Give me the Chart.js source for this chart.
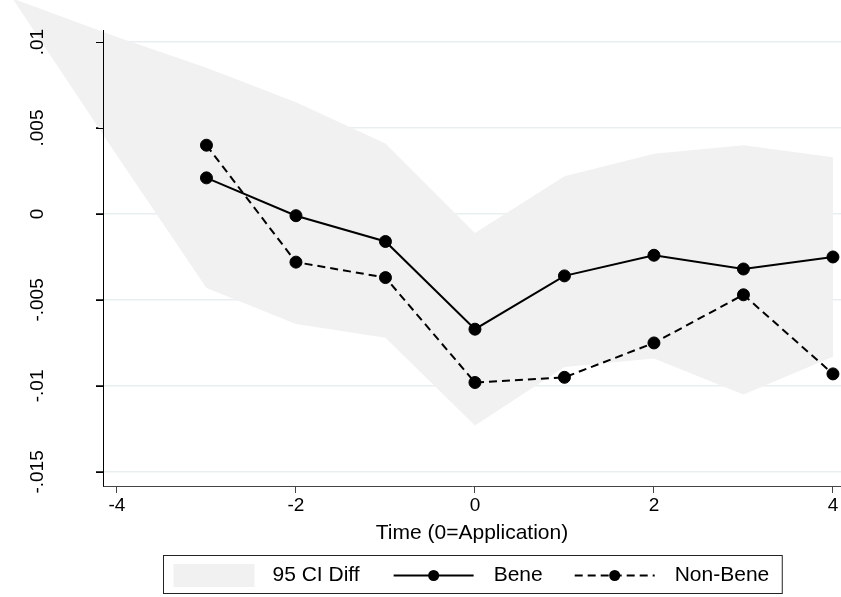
<!DOCTYPE html>
<html>
<head>
<meta charset="utf-8">
<script src="https://cdn.jsdelivr.net/npm/chart.js@4/dist/chart.umd.min.js"></script>
<style>
html, body { margin: 0; padding: 0; background: #fff; }
#wrap { width: 841px; height: 597px; }
</style>
</head>
<body>
<div id="wrap"><canvas id="lineChart" width="841" height="597"></canvas></div>
<script>
//data
var times = [-3, -2, -1, 0, 1, 2, 3, 4];
var bene = [0.0021, -0.0001, -0.0016, -0.0067, -0.0036, -0.0024, -0.0032, -0.0025];
var nonBene = [0.0040, -0.0028, -0.0037, -0.0098, -0.0095, -0.0075, -0.0047, -0.0093];

//95 CI band (runs off the plot on the left)
var bandX = [-5.15, -4, -3, -2, -1, 0, 1, 2, 3, 4];
var ciUpper = [0.0125, 0.0103, 0.0085, 0.0065, 0.0041, -0.0011, 0.0022, 0.0035, 0.0040, 0.0033];
var ciLower = [0.0124, 0.0034, -0.0043, -0.0064, -0.0072, -0.0123, -0.0089, -0.0084, -0.0105, -0.0083];

var xTicks = [-4, -2, 0, 2, 4];
var yTicks = [-0.015, -0.01, -0.005, 0, 0.005, 0.01];
var legendLabels = ["95 CI Diff", "Bene", "Non-Bene"];

var FONT = '"Liberation Sans", Arial, Helvetica, sans-serif';
var bandColor = '#f1f1f1';

function pts(ys) {
  return times.map(function (t, i) { return { x: t, y: ys[i] }; });
}

function stataNum(v) {
  var s = String(+v.toFixed(3));
  return s.replace('0.', '.');
}

//band drawn under the lines, not clipped to the plot
var bandPlugin = {
  id: 'ciBand',
  beforeDatasetsDraw: function (chart) {
    var ctx = chart.ctx, x = chart.scales.x, y = chart.scales.y;
    ctx.save();
    ctx.fillStyle = bandColor;
    ctx.beginPath();
    for (var i = 0; i < bandX.length; i++) {
      var px = x.getPixelForValue(bandX[i]), py = y.getPixelForValue(ciUpper[i]);
      if (i === 0) ctx.moveTo(px, py); else ctx.lineTo(px, py);
    }
    for (var j = bandX.length - 1; j >= 0; j--) {
      ctx.lineTo(x.getPixelForValue(bandX[j]), y.getPixelForValue(ciLower[j]));
    }
    ctx.closePath();
    ctx.fill();
    //y tick marks stay visible on top of the band
    ctx.strokeStyle = '#000';
    ctx.lineWidth = 1;
    yTicks.forEach(function (v) {
      var py = Math.round(y.getPixelForValue(v)) + 0.5;
      ctx.beginPath();
      ctx.moveTo(y.right - 7, py);
      ctx.lineTo(y.right, py);
      ctx.stroke();
    });
    ctx.restore();
  }
};

//stata style boxed legend under the axis title
var legendPlugin = {
  id: 'boxLegend',
  afterDraw: function (chart) {
    var ctx = chart.ctx, area = chart.chartArea;
    ctx.save();
    ctx.font = '21px ' + FONT;
    ctx.textBaseline = 'middle';
    ctx.fillStyle = '#000';
    var w = legendLabels.map(function (t) { return ctx.measureText(t).width; });
    var sw = 81, lineW = 80;
    var inner = sw + 18 + w[0] + 34 + lineW + 20 + w[1] + 32 + lineW + 20 + w[2];
    var boxW = inner + 23, boxH = 38;
    var bx = Math.round((area.left + area.right) / 2 - boxW / 2) + 0.5;
    var by = chart.height - 42 + 0.5;
    var cy = by + boxH / 2 + 1;

    ctx.strokeStyle = '#222';
    ctx.lineWidth = 1;
    ctx.strokeRect(bx, by, boxW, boxH);

    var cx = bx + 10;
    ctx.fillStyle = bandColor;
    ctx.fillRect(cx, cy - 11.5, sw, 23);
    cx += sw + 18;
    ctx.fillStyle = '#000';
    ctx.fillText(legendLabels[0], cx, cy);
    cx += w[0] + 34;

    var dashes = [[], [8, 5]];
    for (var k = 0; k < 2; k++) {
      ctx.setLineDash(dashes[k]);
      ctx.lineWidth = 2;
      ctx.strokeStyle = '#000';
      ctx.beginPath();
      ctx.moveTo(cx, cy);
      ctx.lineTo(cx + lineW, cy);
      ctx.stroke();
      ctx.setLineDash([]);
      ctx.beginPath();
      ctx.arc(cx + lineW / 2, cy, 5.5, 0, Math.PI * 2);
      ctx.fill();
      cx += lineW + 20;
      ctx.fillText(legendLabels[k + 1], cx, cy);
      cx += w[k + 1] + 32;
    }
    ctx.restore();
  }
};

var ctxL = document.getElementById("lineChart").getContext('2d');
var myLineChart = new Chart(ctxL, {
  type: 'line',
  data: {
    datasets: [{
      label: legendLabels[1],
      data: pts(bene),
      borderColor: '#000',
      backgroundColor: '#000',
      borderWidth: 2,
      pointRadius: 6,
      pointBorderWidth: 1,
      pointBackgroundColor: '#000',
      pointBorderColor: '#000',
      fill: false,
      tension: 0
    }, {
      label: legendLabels[2],
      data: pts(nonBene),
      borderColor: '#000',
      backgroundColor: '#000',
      borderWidth: 2,
      borderDash: [8, 5],
      pointRadius: 6,
      pointBorderWidth: 1,
      pointBackgroundColor: '#000',
      pointBorderColor: '#000',
      fill: false,
      tension: 0
    }]
  },
  options: {
    responsive: false,
    animation: false,
    layout: { autoPadding: false, padding: { top: 30, left: 0, right: 0, bottom: 51 } },
    plugins: {
      legend: { display: false },
      tooltip: { enabled: false }
    },
    scales: {
      x: {
        type: 'linear',
        min: -4.156,
        max: 4.09,
        afterBuildTicks: function (s) { s.ticks = xTicks.map(function (v) { return { value: v }; }); },
        afterFit: function (s) {
          s.height = 60;
          s.paddingLeft = 0; s.paddingRight = 0;
        },
        grid: { drawOnChartArea: false, drawTicks: true, tickLength: 7, tickColor: '#444', tickWidth: 1 },
        border: { color: '#444', width: 1, z: 1 },
        ticks: {
          color: '#000',
          padding: 1,
          maxRotation: 0,
          font: { family: FONT, size: 19 },
          callback: function (v) { return String(v); }
        },
        title: {
          display: true,
          text: 'Time (0=Application)',
          color: '#000',
          padding: { top: 0, bottom: 0 },
          font: { family: FONT, size: 21 }
        }
      },
      y: {
        type: 'linear',
        min: -0.01582,
        max: 0.0107,
        afterBuildTicks: function (s) { s.ticks = yTicks.map(function (v) { return { value: v }; }); },
        afterFit: function (s) {
          s.width = 103;
          s.paddingTop = 0; s.paddingBottom = 0;
        },
        grid: { color: '#e8eff1', lineWidth: 1.5, drawTicks: true, tickLength: 7, tickColor: '#000', tickWidth: 1 },
        border: { color: '#000', width: 1, z: 1 },
        ticks: {
          color: '#000',
          z: 1,
          padding: 37,
          minRotation: 90,
          maxRotation: 90,
          crossAlign: 'center',
          font: { family: FONT, size: 19 },
          callback: function (v) { return stataNum(v); }
        }
      }
    }
  },
  plugins: [bandPlugin, legendPlugin]
});
</script>
</body>
</html>
